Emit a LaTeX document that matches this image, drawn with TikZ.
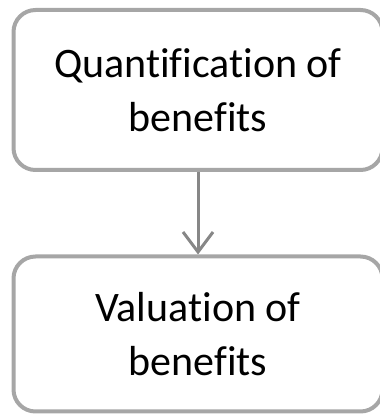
\documentclass[tikz,border=0pt]{standalone}
\usepackage{fontspec}
\setmainfont[Ligatures=NoCommon]{Carlito}
\usetikzlibrary{arrows.meta}
\begin{document}
\begin{tikzpicture}[x=1pt,y=1pt,
  stagebox/.style={draw=black!35, line width=4pt, rounded corners=22pt, fill=white,
    minimum width=369pt, align=center, font=\fontsize{42}{54}\selectfont},
  flow/.style={draw=black!47, line width=3pt,
    -{Straight Barb[length=20pt, width=30pt, line width=3pt]}}]
  \useasboundingbox (0,0) rectangle (380,416);
  \node[stagebox, minimum height=160pt] (quant) at (198,326) {Quantification of\\benefits};
  \node[stagebox, minimum height=155pt] (val) at (198,82) {Valuation of\\benefits};
  \draw[flow] (quant.south) -- (val.north);
\end{tikzpicture}
\end{document}
